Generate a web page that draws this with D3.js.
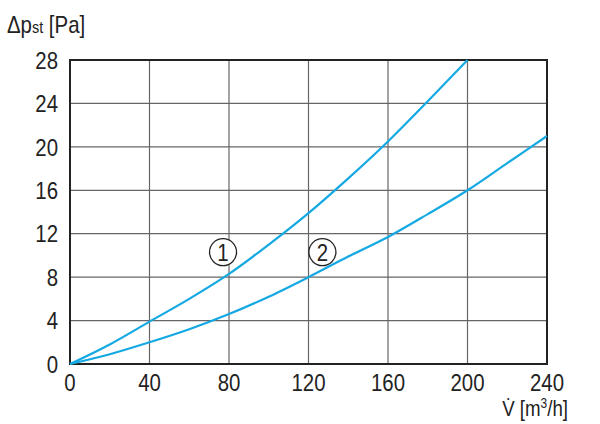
<!DOCTYPE html>
<html>
<head>
<meta charset="utf-8">
<script src="https://cdn.jsdelivr.net/npm/d3@7"></script>
<style>
  body { margin: 0; background: #fff; }
  text { font-family: "Liberation Sans", Arial, sans-serif; fill: #222; }
</style>
</head>
<body>
<div id="chart"></div>
<script>
// flow rate V [m3/h]
var flow1 = [0, 20, 40, 60, 80, 100, 120, 140, 160, 180, 200];
var dp1 = [0, 1.8, 3.9, 6.0, 8.3, 11.0, 13.9, 17.1, 20.5, 24.2, 28];
var flow2 = [0, 20, 40, 60, 80, 100, 120, 140, 160, 180, 200, 220, 240];
var dp2 = [0, 0.9, 2.0, 3.2, 4.6, 6.2, 8.0, 9.9, 11.7, 13.8, 16.0, 18.5, 21.0];
var xTicks = [0, 40, 80, 120, 160, 200, 240];
var yTicks = [0, 4, 8, 12, 16, 20, 24, 28];
var curveLabels = [
  { name: '1', x: 77, y: 10.3 },
  { name: '2', x: 127, y: 10.3 }
];

var W = 600, H = 424;
var margin = { top: 60, right: 53, bottom: 60, left: 70 };
var width = W - margin.left - margin.right,
    height = H - margin.top - margin.bottom;
var squeeze = 0.85; // condensed look

var x = d3.scaleLinear().domain([0, 240]).range([0, width]);
var y = d3.scaleLinear().domain([0, 28]).range([height, 0]);

function at(px, py) {
  return 'translate(' + px + ',' + py + ') scale(' + squeeze + ',1)';
}

var svg = d3.select('#chart').append('svg').attr('width', W).attr('height', H);
var g = svg.append('g').attr('transform', 'translate(' + margin.left + ',' + margin.top + ')');

// grid
g.append('g').selectAll('line').data(xTicks).enter().append('line')
  .attr('x1', function (d) { return x(d); }).attr('x2', function (d) { return x(d); })
  .attr('y1', 0).attr('y2', height)
  .style('stroke', '#666').style('stroke-width', 1.2);
g.append('g').selectAll('line').data(yTicks).enter().append('line')
  .attr('y1', function (d) { return y(d); }).attr('y2', function (d) { return y(d); })
  .attr('x1', 0).attr('x2', width)
  .style('stroke', '#666').style('stroke-width', 1.2);

// frame
g.append('rect').attr('width', width).attr('height', height)
  .style('fill', 'none').style('stroke', '#222').style('stroke-width', 2);

// tick labels
g.append('g').selectAll('text').data(yTicks).enter().append('text')
  .attr('transform', function (d) { return at(-12, y(d)); })
  .attr('dy', '0.36em').attr('text-anchor', 'end')
  .style('font-size', '24px').text(function (d) { return d; });
g.append('g').selectAll('text').data(xTicks).enter().append('text')
  .attr('transform', function (d) { return at(x(d), height + 27); })
  .attr('text-anchor', 'middle')
  .style('font-size', '24px').text(function (d) { return d; });

// curves
var line = d3.line()
  .x(function (d) { return x(d[0]); })
  .y(function (d) { return y(d[1]); })
  .curve(d3.curveMonotoneX);

[d3.zip(flow1, dp1), d3.zip(flow2, dp2)].forEach(function (pts) {
  g.append('path').datum(pts).attr('d', line)
    .style('fill', 'none').style('stroke', '#14a9e3').style('stroke-width', 2.2);
});

// circled curve numbers
var lab = g.append('g').selectAll('g').data(curveLabels).enter().append('g')
  .attr('transform', function (d) { return 'translate(' + x(d.x) + ',' + y(d.y) + ')'; });
lab.append('circle').attr('r', 13.5).style('fill', '#fff').style('stroke', '#222').style('stroke-width', 1.3);
lab.append('text').attr('text-anchor', 'middle').attr('dy', '0.36em')
  .attr('transform', 'scale(' + squeeze + ',1)')
  .style('font-size', '24px').text(function (d) { return d.name; });

// axis titles
var yt = svg.append('text').attr('transform', at(7, 33)).style('font-size', '24px');
yt.append('tspan').text('Δp');
yt.append('tspan').style('font-size', '17px').text('st');
yt.append('tspan').text(' [Pa]');

var xt = svg.append('text').attr('transform', at(568, 416)).attr('text-anchor', 'end').style('font-size', '22px');
xt.append('tspan').text('V̇ [m');
xt.append('tspan').attr('dy', -8).style('font-size', '14px').text('3');
xt.append('tspan').attr('dy', 8).text('/h]');
</script>
</body>
</html>
